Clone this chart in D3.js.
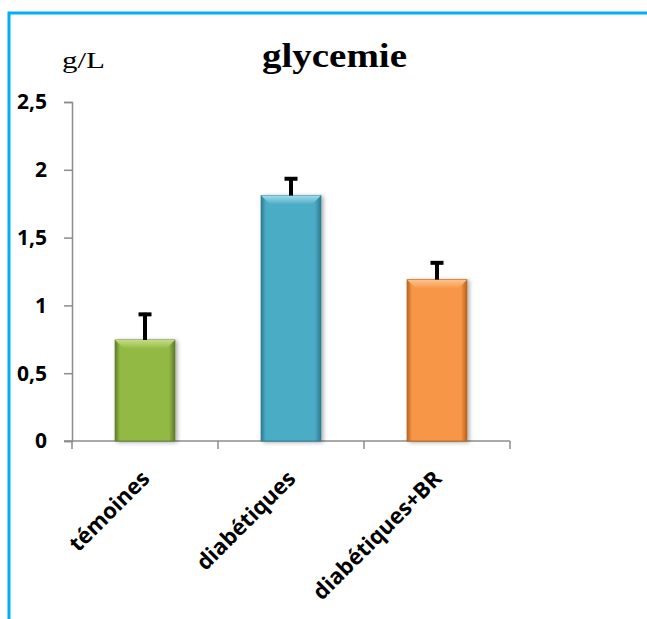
<!DOCTYPE html>
<html>
<head>
<meta charset="utf-8">
<script src="https://cdn.jsdelivr.net/npm/d3@7"></script>
<style>
  html, body { margin: 0; padding: 0; background: #fff; }
  svg { display: block; }
</style>
</head>
<body>
<svg id="chart" width="647" height="619"></svg>
<script>
// Blood glucose per group (g/L), mean and upper error
const categories = ["témoines", "diabétiques", "diabétiques+BR"];
const means = [0.745, 1.81, 1.19];
const errors = [0.20, 0.135, 0.135];
const yTicks = [0, 0.5, 1, 1.5, 2, 2.5];
const yTickLabels = ["0", "0,5", "1", "1,5", "2", "2,5"];
const barColors = ["#93b944", "#4bacc6", "#f79646"];
const barLight = ["#c4dc82", "#9fdcec", "#ffc48f"];
const barDark = ["#5f7a28", "#2c7a90", "#b8621c"];

const svg = d3.select("#chart");

// frame
svg.append("rect")
  .attr("x", 9).attr("y", 13)
  .attr("width", 700).attr("height", 700)
  .attr("fill", "none").attr("stroke", "#00b0f0").attr("stroke-width", 3);

const plotLeft = 72, plotRight = 510, plotTop = 102, plotBottom = 441;

const x = d3.scaleBand().domain(categories).range([plotLeft, plotRight]).paddingInner(0).paddingOuter(0);
const y = d3.scaleLinear().domain([0, 2.5]).range([plotBottom, plotTop]);
const barW = x.bandwidth() * 0.41;

const defs = svg.append("defs");
const shadow = defs.append("filter").attr("id", "shadow").attr("x", "-20%").attr("y", "-10%").attr("width", "150%").attr("height", "130%");
shadow.append("feGaussianBlur").attr("in", "SourceAlpha").attr("stdDeviation", 2);
shadow.append("feOffset").attr("dx", 2).attr("dy", 1).attr("result", "off");
shadow.append("feComponentTransfer").append("feFuncA").attr("type", "linear").attr("slope", 0.35);
const merge = shadow.append("feMerge");
merge.append("feMergeNode");
merge.append("feMergeNode").attr("in", "SourceGraphic");

categories.forEach((c, i) => {
  const g = defs.append("linearGradient").attr("id", "grad" + i).attr("x1", 0).attr("x2", 1).attr("y1", 0).attr("y2", 0);
  g.append("stop").attr("offset", "0%").attr("stop-color", barDark[i]);
  g.append("stop").attr("offset", "8%").attr("stop-color", barColors[i]);
  g.append("stop").attr("offset", "90%").attr("stop-color", barColors[i]);
  g.append("stop").attr("offset", "100%").attr("stop-color", barDark[i]);
  const t = defs.append("linearGradient").attr("id", "top" + i).attr("x1", 0).attr("x2", 0).attr("y1", 0).attr("y2", 1);
  t.append("stop").attr("offset", "0%").attr("stop-color", barLight[i]);
  t.append("stop").attr("offset", "100%").attr("stop-color", barColors[i]);
});

// y axis
const yAxis = d3.axisLeft(y).tickValues(yTicks).tickSize(8)
  .tickFormat((d, i) => yTickLabels[i]);
const gy = svg.append("g").attr("transform", `translate(${plotLeft},0)`).call(yAxis);
gy.select(".domain").attr("stroke", "#8c8c8c").attr("stroke-width", 1.5);
gy.selectAll(".tick line").attr("stroke", "#8c8c8c").attr("stroke-width", 1.5);
gy.selectAll(".tick text")
  .attr("x", -25)
  .attr("dy", "0.33em")
  .style("font-family", "'Open Sans', sans-serif")
  .style("font-weight", "bold")
  .style("font-size", "21px")
  .attr("fill", "#000");

// x axis with ticks at category boundaries
const gx = svg.append("g").attr("transform", `translate(0,${plotBottom})`);
gx.append("line").attr("x1", plotLeft - 8).attr("x2", plotRight).attr("y1", 0).attr("y2", 0)
  .attr("stroke", "#8c8c8c").attr("stroke-width", 1.5);
const bounds = categories.map(c => x(c)).concat([x(categories[categories.length - 1]) + x.bandwidth()]);
gx.selectAll("line.tk").data(bounds).join("line").attr("class", "tk")
  .attr("x1", d => d).attr("x2", d => d).attr("y1", 0).attr("y2", 8)
  .attr("stroke", "#8c8c8c").attr("stroke-width", 1.5);

gx.selectAll("text.cat").data(categories).join("text").attr("class", "cat")
  .attr("transform", d => `translate(${x(d) + x.bandwidth() / 2 + 6},${39}) rotate(-45)`)
  .attr("text-anchor", "end")
  .style("font-family", "'Open Sans', sans-serif")
  .style("font-weight", "bold")
  .style("font-size", "22px")
  .attr("fill", "#000")
  .text(d => d);

// bars
const bars = svg.append("g");
categories.forEach((c, i) => {
  const bx = x(c) + (x.bandwidth() - barW) / 2;
  const by = y(means[i]);
  const bh = y(0) - by;
  const bg = bars.append("g").attr("filter", "url(#shadow)");
  bg.append("rect").attr("x", bx).attr("y", by).attr("width", barW).attr("height", bh)
    .attr("fill", `url(#grad${i})`).attr("stroke", barDark[i]).attr("stroke-width", 0.8);
  const b = 9;
  bg.append("path")
    .attr("d", `M${bx},${by} L${bx + barW},${by} L${bx + barW - b},${by + b} L${bx + b},${by + b} Z`)
    .attr("fill", `url(#top${i})`);
});

// error bars
const eb = svg.append("g");
categories.forEach((c, i) => {
  const cx = x(c) + x.bandwidth() / 2;
  eb.append("line").attr("x1", cx).attr("x2", cx)
    .attr("y1", y(means[i])).attr("y2", y(means[i] + errors[i]))
    .attr("stroke", "#000").attr("stroke-width", 4);
  eb.append("line").attr("x1", cx - 6.5).attr("x2", cx + 6.5)
    .attr("y1", y(means[i] + errors[i]) + 1.5).attr("y2", y(means[i] + errors[i]) + 1.5)
    .attr("stroke", "#000").attr("stroke-width", 4);
});

// titles
svg.append("text").attr("x", 262).attr("y", 67)
  .attr("textLength", 145).attr("lengthAdjust", "spacingAndGlyphs")
  .style("font-family", "'Liberation Serif', 'Times New Roman', serif")
  .style("font-weight", "bold").style("font-size", "33px")
  .attr("fill", "#000").text("glycemie");
svg.append("text").attr("x", 62).attr("y", 68)
  .attr("textLength", 43).attr("lengthAdjust", "spacingAndGlyphs")
  .style("font-family", "'Liberation Serif', 'Times New Roman', serif")
  .style("font-size", "24px")
  .attr("fill", "#000").text("g/L");
</script>
</body>
</html>
